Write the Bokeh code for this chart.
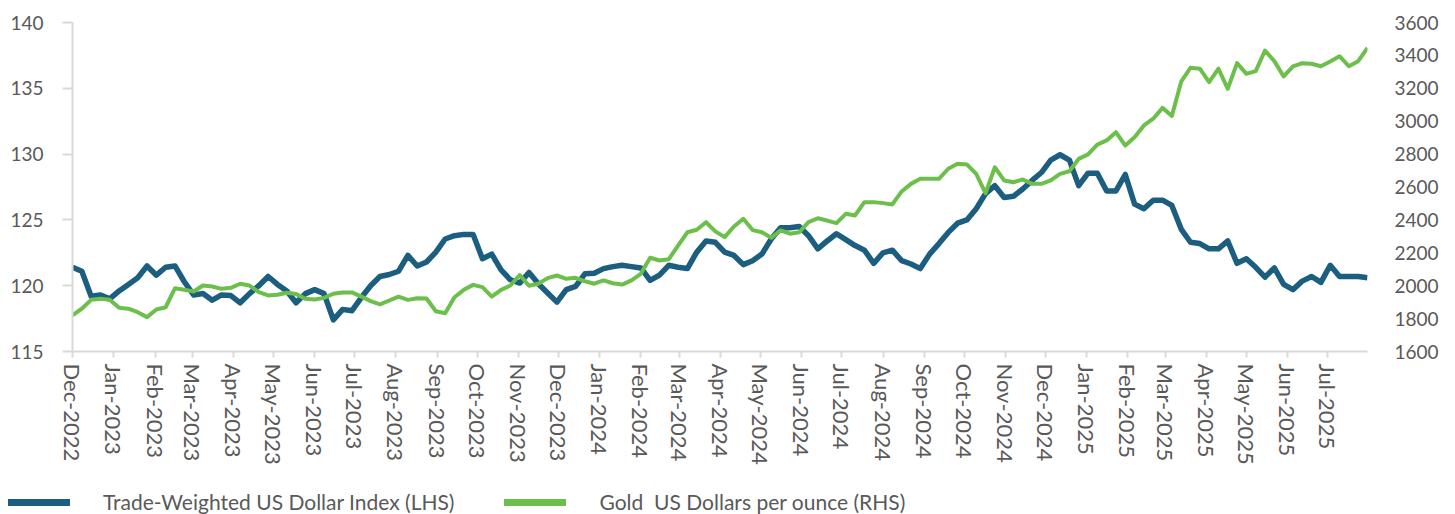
import pandas as pd
from bokeh.plotting import figure
from bokeh.layouts import column
from bokeh.models import (Range1d, LinearAxis, FixedTicker, DatetimeTickFormatter,
                          Legend, LegendItem, ColumnDataSource)
from bokeh.embed import file_html
from bokeh.resources import INLINE

# ---------------- data (weekly observations) ----------------
start_date = "2022-12-01"

dollar_index = [
    121.4, 121.1, 119.2, 119.3, 119.0, 119.6, 120.1, 120.6, 121.5, 120.8,
    121.4, 121.5, 120.3, 119.3, 119.4, 118.9, 119.3, 119.25, 118.7, 119.4,
    120.0, 120.7, 120.1, 119.6, 118.7, 119.4, 119.7, 119.4, 117.4, 118.2,
    118.1, 119.1, 120.0, 120.7, 120.85, 121.1, 122.3, 121.5, 121.8, 122.55,
    123.55, 123.8, 123.9, 123.9, 122.05, 122.4, 121.2, 120.45, 120.2, 121.0,
    120.15, 119.45, 118.75, 119.7, 119.95, 120.9, 120.95, 121.3, 121.45, 121.55,
    121.45, 121.35, 120.4, 120.8, 121.55, 121.4, 121.3, 122.55, 123.4, 123.3,
    122.55, 122.3, 121.6, 121.9, 122.4, 123.55, 124.4, 124.4, 124.5, 123.8,
    122.8, 123.4, 123.95, 123.5, 123.05, 122.7, 121.7, 122.5, 122.7, 121.9,
    121.65, 121.3, 122.4, 123.2, 124.05, 124.75, 125.0, 125.85, 127.0, 127.6,
    126.7, 126.8, 127.35, 128.0, 128.6, 129.55, 129.95, 129.55, 127.6, 128.55,
    128.55, 127.2, 127.2, 128.45, 126.2, 125.85, 126.5, 126.5, 126.1, 124.3,
    123.3, 123.2, 122.8, 122.8, 123.4, 121.7, 122.05, 121.4, 120.65, 121.35,
    120.1, 119.7, 120.35, 120.7, 120.25, 121.55, 120.7, 120.7, 120.7, 120.6,
]

gold_price = [
    1819, 1860, 1914, 1920, 1914, 1866, 1860, 1839, 1809, 1855,
    1869, 1985, 1975, 1965, 2001, 1995, 1981, 1987, 2012, 2001,
    1961, 1941, 1945, 1957, 1950, 1920, 1916, 1926, 1951, 1959,
    1959, 1934, 1906, 1886, 1910, 1934, 1914, 1924, 1922, 1845,
    1833, 1930, 1975, 2005, 1991, 1934, 1975, 2001, 2065, 2000,
    2012, 2046, 2062, 2042, 2048, 2027, 2012, 2032, 2015, 2007,
    2032, 2072, 2170, 2153, 2161, 2244, 2325, 2340, 2386, 2330,
    2295, 2360, 2407, 2338, 2325, 2291, 2336, 2316, 2325, 2386,
    2410, 2396, 2380, 2437, 2427, 2508, 2508, 2502, 2494, 2573,
    2619, 2650, 2650, 2650, 2711, 2741, 2737, 2680, 2562, 2720,
    2640, 2629, 2646, 2619, 2619, 2640, 2680, 2696, 2771, 2798,
    2858, 2883, 2933, 2852, 2903, 2974, 3015, 3081, 3032, 3240,
    3325, 3319, 3237, 3319, 3197, 3353, 3288, 3304, 3430, 3365,
    3272, 3333, 3353, 3349, 3334, 3363, 3395, 3334, 3365, 3446,
]

month_ticks = ["2022-12-01", "2023-01-01", "2023-02-01", "2023-03-01", "2023-04-01",
               "2023-05-01", "2023-06-01", "2023-07-01", "2023-08-01", "2023-09-01",
               "2023-10-01", "2023-11-01", "2023-12-01", "2024-01-01", "2024-02-01",
               "2024-03-01", "2024-04-01", "2024-05-01", "2024-06-01", "2024-07-01",
               "2024-08-01", "2024-09-01", "2024-10-01", "2024-11-01", "2024-12-01",
               "2025-01-01", "2025-02-01", "2025-03-01", "2025-04-01", "2025-05-01",
               "2025-06-01", "2025-07-01"]

left_ticks = [115, 120, 125, 130, 135, 140]
right_ticks = [1600, 1800, 2000, 2200, 2400, 2600, 2800, 3000, 3200, 3400, 3600]

label_dollar = "Trade-Weighted US Dollar Index (LHS)"
label_gold = "Gold  US Dollars per ounce (RHS)"

BLUE = "#1b5e7f"
GREEN = "#6cbf4a"
TEXT = "#595959"
AXIS = "#d9d9d9"
FONT = "Lato"

dates = pd.date_range(start_date, periods=len(dollar_index), freq="7D")
src = ColumnDataSource(dict(date=dates, dollar=dollar_index, gold=gold_price))

p = figure(width=1455, height=484, x_axis_type="datetime",
           output_backend="svg", toolbar_location=None,
           min_border_left=72, min_border_right=88, min_border_top=22,
           min_border_bottom=133)
p.x_range = Range1d(dates[0], dates[-1])
p.y_range = Range1d(115, 140)
p.extra_y_ranges = {"gold": Range1d(1600, 3600)}
p.outline_line_color = None
p.xgrid.visible = False
p.ygrid.visible = False
p.background_fill_color = "white"
p.border_fill_color = "white"

# lines
r_dollar = p.line("date", "dollar", source=src, color=BLUE, line_width=5.5,
                  line_join="round")
r_gold = p.line("date", "gold", source=src, color=GREEN, line_width=4,
                line_join="round", y_range_name="gold")

# x axis
xa = p.xaxis[0]
xa.ticker = FixedTicker(ticks=[pd.Timestamp(t).value / 1e6 for t in month_ticks])
fmt = "%b-%Y"
xa.formatter = DatetimeTickFormatter(days=fmt, months=fmt, years=fmt, hours=fmt,
                                     minutes=fmt, seconds=fmt, milliseconds=fmt,
                                     microseconds=fmt, minsec=fmt, hourmin=fmt)
xa.major_label_orientation = "vertical"
xa.major_label_text_font = FONT
xa.major_label_text_font_size = "22px"
xa.major_label_text_color = TEXT
xa.axis_line_color = AXIS
xa.axis_line_width = 2
xa.major_tick_line_color = AXIS
xa.major_tick_line_width = 2
xa.major_tick_out = 6
xa.major_tick_in = 0
xa.minor_tick_line_color = None
xa.major_label_standoff = 6

# left axis
ya = p.yaxis[0]
ya.ticker = FixedTicker(ticks=left_ticks)
ya.major_label_text_font = FONT
ya.major_label_text_font_size = "19px"
ya.major_label_text_color = TEXT
ya.axis_line_color = AXIS
ya.axis_line_width = 2
ya.major_tick_line_color = AXIS
ya.major_tick_line_width = 2
ya.major_tick_out = 10
ya.major_tick_in = 0
ya.minor_tick_line_color = None
ya.major_label_standoff = 19

# right axis
ra = LinearAxis(y_range_name="gold", ticker=FixedTicker(ticks=right_ticks))
ra.major_label_text_font = FONT
ra.major_label_text_font_size = "19px"
ra.major_label_text_color = TEXT
ra.axis_line_color = None
ra.major_tick_line_color = None
ra.minor_tick_line_color = None
ra.major_label_standoff = 21
p.add_layout(ra, "right")

# ---------------- legend strip ----------------
leg = figure(width=1455, height=30, output_backend="svg", toolbar_location=None,
             min_border=0, x_range=Range1d(0, 1), y_range=Range1d(0, 1))
leg.styles = {"margin-left": "-64px"}
leg.axis.visible = False
leg.xgrid.visible = False
leg.ygrid.visible = False
leg.outline_line_color = None
lg_dollar = leg.line(x=[0.5], y=[float("nan")], color=BLUE, line_width=7,
                     line_cap="round")
lg_gold = leg.line(x=[0.5], y=[float("nan")], color=GREEN, line_width=7,
                   line_cap="round")
legend = Legend(items=[LegendItem(label=label_dollar, renderers=[lg_dollar]),
                       LegendItem(label=label_gold, renderers=[lg_gold])],
                orientation="horizontal", location=(0, 0),
                glyph_width=62, glyph_height=20, label_height=20,
                label_standoff=33, spacing=50, padding=0, margin=0,
                border_line_color=None, background_fill_alpha=0,
                label_text_font=FONT, label_text_font_size="21px",
                label_text_color=TEXT)
leg.add_layout(legend, "center")

layout = column(p, leg, spacing=0)
open("out.html", "w").write(file_html(layout, INLINE))
